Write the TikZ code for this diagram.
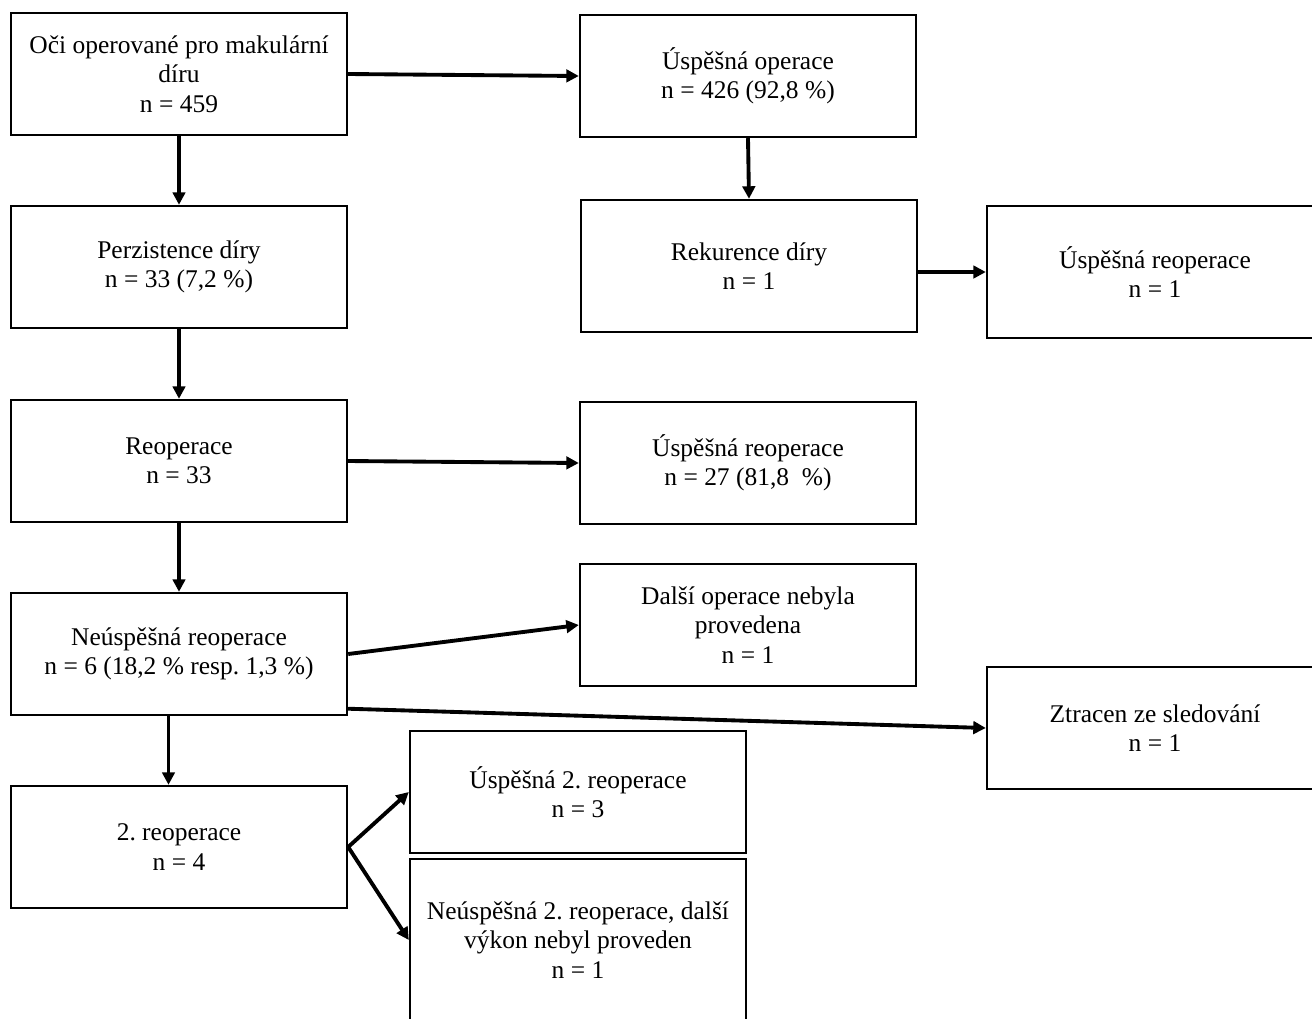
\documentclass[tikz,border=0pt]{standalone}
\usepackage{fontspec}
\setmainfont{Liberation Serif}
\usepackage{tikz}
\usetikzlibrary{arrows.meta,positioning}
\frenchspacing
\tikzstyle{box} = [rectangle, draw, line width=1.4pt, minimum width=6.72cm, minimum height=2.44cm, align=center, font=\fontsize{14.5}{16.8}\selectfont]
\tikzstyle{arr} = [line width=2.2pt, -{Triangle[length=0.25cm,width=0.25cm]}]

\begin{document}
\begin{tikzpicture}[x=0.02cm, y=-0.02cm]
\useasboundingbox (0,0) rectangle (1312,1018);
\clip (0,0) rectangle (1312,1018);
% left column
\node(A)[box] at (179,74) {Oči operované pro makulární\\díru\\n = 459};
\node(C)[box] at (179,267) {Perzistence díry\\n = 33 (7,2 \%)};
\node(F)[box] at (179,461) {Reoperace\\n = 33};
\node(H)[box] at (179,654) {Neúspěšná reoperace\\n = 6 (18,2 \% resp. 1,3 \%)};
\node(K)[box] at (179,847) {2. reoperace\\n = 4};
% middle column
\node(B)[box] at (748,76) {Úspěšná operace\\n = 426 (92,8 \%)};
\node(D)[box, minimum height=2.64cm] at (749,266) {Rekurence díry\\n = 1};
\node(G)[box] at (748,463) {Úspěšná reoperace\\n = 27 (81,8\ \ \%)};
\node(I)[box] at (748,625) {Další operace nebyla\\provedena\\n = 1};
\node(L)[box] at (578,792) {Úspěšná 2. reoperace\\n = 3};
\node(M)[box, minimum height=3.24cm] at (578,940) {Neúspěšná 2. reoperace, další\\výkon nebyl proveden\\n = 1};
% right column
\node(E)[box, minimum height=2.64cm] at (1155,272) {Úspěšná reoperace\\n = 1};
\node(J)[box] at (1155,728) {Ztracen ze sledování\\n = 1};

\draw[arr](A.east)--(B.west);
\draw[arr](A.south)--(C.north);
\draw[arr](B.south)--(D.north);
\draw[arr](D.east |- E.west)--(E.west);
\draw[arr](C.south)--(F.north);
\draw[arr](F.east)--(G.west);
\draw[arr](F.south)--(H.north);
\draw[arr](H.east)--(I.west);
\draw[arr]([yshift=0.15cm]H.south east)--(J.west);
\draw[arr]([xshift=-0.21cm]H.south)--([xshift=-0.21cm]K.north);
\draw[arr](K.east)--(L.west);
\draw[arr](K.east)--(M.west);
\end{tikzpicture}
\end{document}
